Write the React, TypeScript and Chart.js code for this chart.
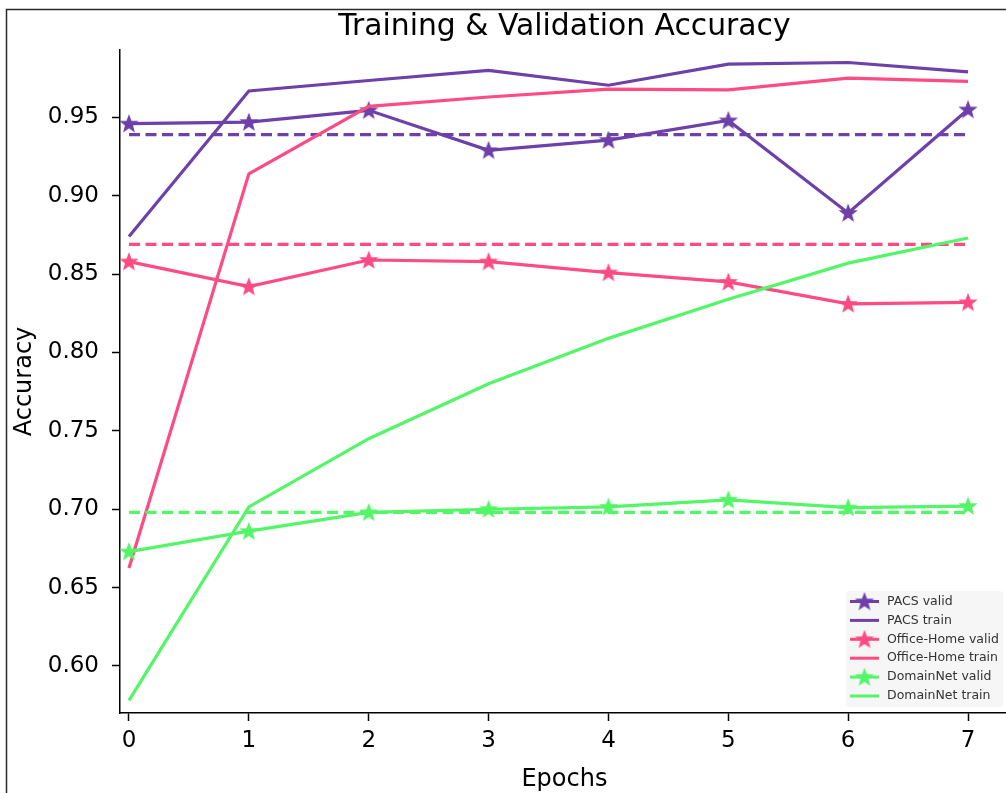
import React, { useEffect, useRef } from "react";
import { Chart, registerables } from "chart.js";

Chart.register(...registerables);

// ---- data ----
const epochs = [0, 1, 2, 3, 4, 5, 6, 7];
const pacsValid = [0.946, 0.947, 0.9545, 0.929, 0.9355, 0.948, 0.889, 0.955];
const pacsTrain = [0.874, 0.9668, 0.9735, 0.98, 0.9705, 0.984, 0.985, 0.979];
const officeValid = [0.858, 0.842, 0.859, 0.858, 0.851, 0.845, 0.831, 0.832];
const officeTrain = [0.6625, 0.914, 0.957, 0.963, 0.968, 0.9675, 0.975, 0.973];
const domainValid = [0.673, 0.686, 0.698, 0.7, 0.7015, 0.706, 0.701, 0.702];
const domainTrain = [0.578, 0.7015, 0.745, 0.78, 0.809, 0.834, 0.857, 0.873];
const pacsRef = 0.939;
const officeRef = 0.869;
const domainRef = 0.698;
const yTicks = [0.6, 0.65, 0.7, 0.75, 0.8, 0.85, 0.9, 0.95];
const seriesLabels = [
  "PACS valid",
  "PACS train",
  "Office-Home valid",
  "Office-Home train",
  "DomainNet valid",
  "DomainNet train",
];

const PURPLE = "#6e40aa";
const PINK = "#fe4b83";
const GREEN = "#52f667";
const FONT = '"DejaVu Sans", sans-serif';

function makeStar(color: string): HTMLCanvasElement {
  const c = document.createElement("canvas");
  const size = 22;
  c.width = size;
  c.height = size;
  const ctx = c.getContext("2d")!;
  const cx = size / 2;
  const cy = size / 2 + 0.5;
  const R = 8.4;
  const r = R * 0.42;
  ctx.beginPath();
  for (let i = 0; i < 10; i++) {
    const rad = i % 2 === 0 ? R : r;
    const a = -Math.PI / 2 + (i * Math.PI) / 5;
    const x = cx + rad * Math.cos(a);
    const y = cy + rad * Math.sin(a);
    if (i === 0) ctx.moveTo(x, y);
    else ctx.lineTo(x, y);
  }
  ctx.closePath();
  ctx.fillStyle = color;
  ctx.fill();
  ctx.lineWidth = 1.2;
  ctx.strokeStyle = color;
  ctx.lineJoin = "miter";
  ctx.stroke();
  return c;
}

const pts = (vals: number[]) => vals.map((v, i) => ({ x: epochs[i], y: v }));
const refLine = (v: number) => [
  { x: epochs[0], y: v },
  { x: epochs[epochs.length - 1], y: v },
];

export default function App() {
  const ref = useRef<HTMLCanvasElement | null>(null);

  useEffect(() => {
    if (!ref.current) return;
    const stars = {
      p: makeStar(PURPLE),
      o: makeStar(PINK),
      d: makeStar(GREEN),
    };
    const LW = 3.2;

    const validDs = (label: string, data: number[], color: string, star: HTMLCanvasElement) => ({
      label,
      data: pts(data),
      borderColor: color,
      backgroundColor: color,
      borderWidth: LW,
      pointStyle: star,
      pointRadius: 8,
      tension: 0,
    });
    const trainDs = (label: string, data: number[], color: string) => ({
      label,
      data: pts(data),
      borderColor: color,
      backgroundColor: color,
      borderWidth: LW,
      pointRadius: 0,
      tension: 0,
    });
    const dashDs = (label: string, v: number, color: string) => ({
      label,
      data: refLine(v),
      borderColor: color,
      backgroundColor: color,
      borderWidth: LW,
      borderDash: [11, 5.5],
      pointRadius: 0,
      tension: 0,
    });

    const list: any[] = [
      validDs(seriesLabels[0], pacsValid, PURPLE, stars.p),
      trainDs(seriesLabels[1], pacsTrain, PURPLE),
      dashDs("PACS ref", pacsRef, PURPLE),
      validDs(seriesLabels[2], officeValid, PINK, stars.o),
      trainDs(seriesLabels[3], officeTrain, PINK),
      dashDs("Office-Home ref", officeRef, PINK),
      validDs(seriesLabels[4], domainValid, GREEN, stars.d),
      trainDs(seriesLabels[5], domainTrain, GREEN),
      dashDs("DomainNet ref", domainRef, GREEN),
    ];
    list.forEach((d, i) => (d.order = list.length - i));

    const legendEntries = [
      { label: seriesLabels[0], color: PURPLE, star: stars.p },
      { label: seriesLabels[1], color: PURPLE, star: null },
      { label: seriesLabels[2], color: PINK, star: stars.o },
      { label: seriesLabels[3], color: PINK, star: null },
      { label: seriesLabels[4], color: GREEN, star: stars.d },
      { label: seriesLabels[5], color: GREEN, star: null },
    ];

    const decor = {
      id: "decor",
      beforeDraw(chart: any) {
        const ctx = chart.ctx;
        ctx.save();
        ctx.fillStyle = "#ffffff";
        ctx.fillRect(0, 0, chart.width, chart.height);
        ctx.restore();
      },
      afterDraw(chart: any) {
        const ctx = chart.ctx;
        ctx.save();
        // outer frame
        ctx.strokeStyle = "#2a2a2a";
        ctx.lineWidth = 1.5;
        ctx.strokeRect(6.5, 9.5, 3000, 3000);
        // legend box
        const bx = 846, by = 591, bw = 157, bh = 116;
        ctx.fillStyle = "rgba(245,245,245,0.9)";
        ctx.beginPath();
        const rr = 3;
        ctx.moveTo(bx + rr, by);
        ctx.lineTo(bx + bw - rr, by);
        ctx.quadraticCurveTo(bx + bw, by, bx + bw, by + rr);
        ctx.lineTo(bx + bw, by + bh - rr);
        ctx.quadraticCurveTo(bx + bw, by + bh, bx + bw - rr, by + bh);
        ctx.lineTo(bx + rr, by + bh);
        ctx.quadraticCurveTo(bx, by + bh, bx, by + bh - rr);
        ctx.lineTo(bx, by + rr);
        ctx.quadraticCurveTo(bx, by, bx + rr, by);
        ctx.closePath();
        ctx.fill();
        legendEntries.forEach((e, i) => {
          const y = 601.5 + i * 18.9;
          ctx.strokeStyle = e.color;
          ctx.lineWidth = 3;
          ctx.setLineDash([]);
          ctx.beginPath();
          ctx.moveTo(850, y);
          ctx.lineTo(879, y);
          ctx.stroke();
          if (e.star) {
            ctx.drawImage(e.star, 864.5 - e.star.width / 2, y - e.star.height / 2);
          }
          ctx.fillStyle = "#333333";
          ctx.font = `12.5px ${FONT}`;
          ctx.textAlign = "left";
          ctx.textBaseline = "middle";
          ctx.fillText(e.label, 887, y);
        });
        ctx.restore();
      },
    };

    const chart = new Chart(ref.current, {
      type: "line",
      data: { datasets: list },
      plugins: [decor],
      options: {
        animation: false,
        responsive: false,
        devicePixelRatio: 1,
        events: [],
        layout: { padding: { left: 0, right: 7, top: 0, bottom: 0 } },
        plugins: {
          legend: { display: false },
          tooltip: { enabled: false },
          title: {
            display: true,
            text: "Training & Validation Accuracy",
            fullSize: false,
            color: "#000",
            font: { family: FONT, size: 29.8, weight: "normal", lineHeight: 1.2 },
            padding: { top: 9.8, bottom: 4.4 },
          },
        },
        scales: {
          x: {
            type: "linear",
            min: -0.075,
            max: 7.34,
            afterFit: (s: any) => {
              s.height = 80;
            },
            afterBuildTicks: (s: any) => {
              s.ticks = epochs.map((v) => ({ value: v }));
            },
            ticks: {
              color: "#000",
              font: { family: FONT, size: 23 },
              padding: 6,
              maxRotation: 0,
              autoSkip: false,
              callback: (v: any) => String(v),
            },
            grid: {
              display: true,
              drawOnChartArea: false,
              drawTicks: true,
              tickLength: 8,
              tickWidth: 1.5,
              tickColor: "#000",
            },
            border: { display: true, color: "#000", width: 1.5 },
            title: {
              display: true,
              text: "Epochs",
              color: "#000",
              font: { family: FONT, size: 24, lineHeight: 1.1 },
              padding: { top: 0, bottom: 0 },
            },
          },
          y: {
            type: "linear",
            min: 0.57,
            max: 0.993,
            afterFit: (s: any) => {
              s.width = 120;
            },
            afterBuildTicks: (s: any) => {
              s.ticks = yTicks.map((v) => ({ value: v }));
            },
            ticks: {
              color: "#000",
              font: { family: FONT, size: 23 },
              padding: 13,
              callback: (v: any) => Number(v).toFixed(2),
            },
            grid: {
              display: true,
              drawOnChartArea: false,
              drawTicks: true,
              tickLength: 8,
              tickWidth: 1.5,
              tickColor: "#000",
            },
            border: { display: true, color: "#000", width: 1.5 },
            title: {
              display: true,
              text: "Accuracy",
              color: "#000",
              font: { family: FONT, size: 24 },
              padding: { top: 10, bottom: 0 },
            },
          },
        },
      } as any,
    });

    return () => chart.destroy();
  }, []);

  return (
    <div
      style={{
        position: "absolute",
        left: 0,
        top: 0,
        width: 1006,
        height: 793,
        overflow: "hidden",
        background: "#fff",
      }}
    >
      <canvas ref={ref} width={1020} height={793} style={{ display: "block", width: 1020, height: 793 }} />
    </div>
  );
}
